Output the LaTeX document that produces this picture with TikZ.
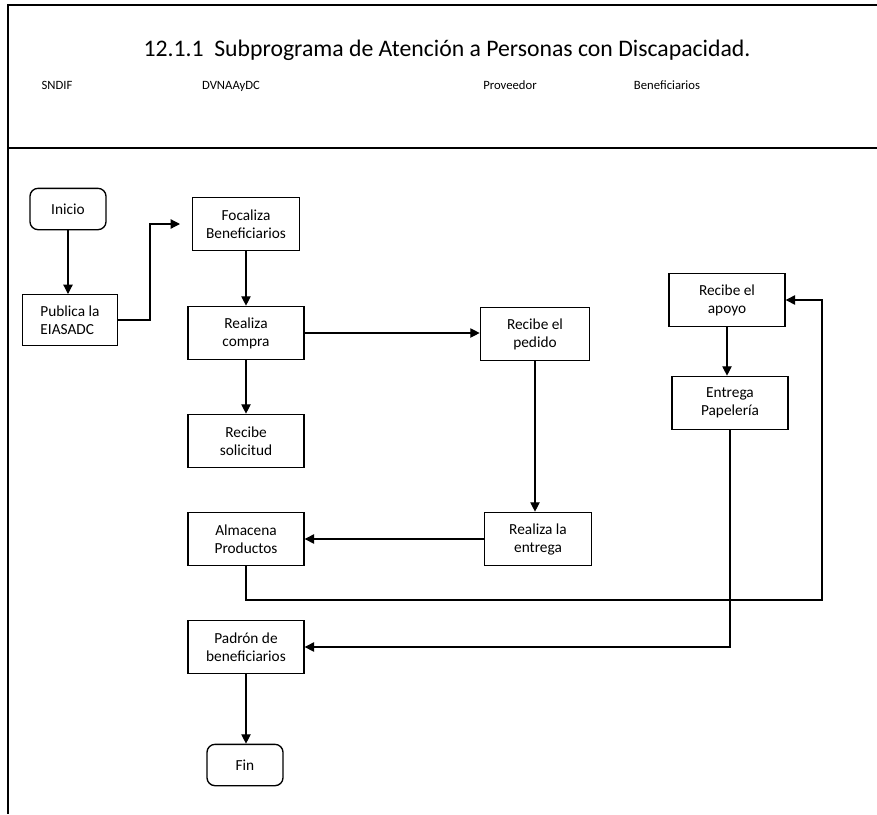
\documentclass[tikz,border=0pt]{standalone}
\usepackage{fontspec}
\setmainfont{Carlito}
\usetikzlibrary{arrows.meta}
\begin{document}
\begin{tikzpicture}[
        x=0.75pt, y=-0.75pt,
        every node/.style={font=\fontsize{11.5}{13.5}\selectfont, align=center}, % box text
        proc/.style={rectangle, draw, line width=1pt, minimum width=87pt, minimum height=40pt},
        term/.style={rectangle, rounded corners=6pt, draw, line width=1pt, minimum width=57pt, minimum height=31pt},
        lane/.style={font=\fontsize{9.5}{11}\selectfont, anchor=base},
        flow/.style={draw, line width=0.9pt, -{Triangle[length=7pt,width=7pt]}}
    ]
        \useasboundingbox (0,0) rectangle (877,814);
        % frame and header
        \draw[line width=0.8pt] (877,5) -- (8,5) -- (8,814);
        \draw[line width=0.8pt] (8,148) -- (877,148);
        \node[font=\fontsize{17.8}{20}\selectfont] (titulo) at (447,50) {12.1.1\ \ Subprograma de Atención a Personas con Discapacidad.};
        \node[lane] (sndif) at (57,89) {SNDIF};
        \node[lane] (dvnaaydc) at (231,89) {DVNAAyDC};
        \node[lane] (proveedor) at (510,89) {Proveedor};
        \node[lane] (beneficiarios) at (667,89) {Beneficiarios};

        % steps
        \node[term] (inicio) at (68,209) {Inicio};
        \node[proc, minimum width=71pt, minimum height=38pt, align=left] (publica) at (70,320) {Publica la\\EIASADC};
        \node[proc, minimum width=80pt] (focaliza) at (246,224) {Focaliza\\Beneficiarios};
        \node[proc] (compra) at (246,333) {Realiza\\compra};
        \node[proc] (solicitud) at (246,441) {Recibe\\solicitud};
        \node[proc] (almacena) at (246,539) {Almacena\\Productos};
        \node[proc] (padron) at (246,647) {Padrón de\\beneficiarios};
        \node[term] (fin) at (245,765) {Fin};
        \node[proc, minimum width=82pt] (pedido) at (535,334) {Recibe el\\pedido};
        \node[proc, minimum width=80pt] (entrega) at (538,539) {Realiza la\\entrega};
        \node[proc] (apoyo) at (727,300) {Recibe el\\apoyo};
        \node[proc] (papeleria) at (730,403) {Entrega\\Papelería};

        % connectors
        \coordinate (c1) at (150,0);
        \coordinate (c2) at (822,600);
        \draw[flow] (inicio.south) -- (inicio.south |- publica.north);
        \draw[flow, shorten >=9pt] (publica.east) -- (publica.east -| c1) |- (focaliza.west);
        \draw[flow] (focaliza) -- (compra);
        \draw[flow] (compra.east) -- (compra.east -| pedido.west);
        \draw[flow] (compra) -- (solicitud);
        \draw[flow] (pedido.south) -- (pedido.south |- entrega.north);
        \draw[flow] (entrega.west) -- (almacena.east);
        \draw[flow] (almacena.south) |- (c2) |- (apoyo.east);
        \draw[flow] (apoyo.south) -- (apoyo.south |- papeleria.north);
        \draw[flow] (papeleria.south) |- (padron.east);
        \draw[flow] (padron.south) -- (padron.south |- fin.north);
    \end{tikzpicture}
\end{document}
